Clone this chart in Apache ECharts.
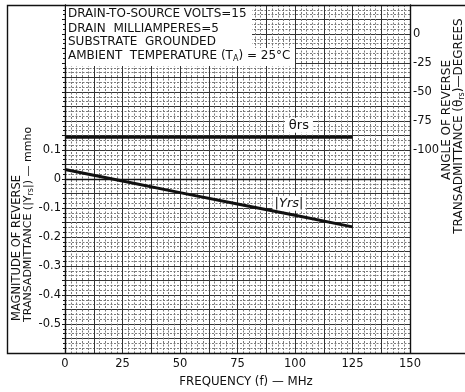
<!DOCTYPE html>
<html>
<head>
<meta charset="utf-8">
<script src="https://cdn.jsdelivr.net/npm/echarts@6/dist/echarts.min.js"></script>
<style>
  html, body { margin: 0; padding: 0; background: #fff; }
  #chart { width: 465px; height: 392px; }
</style>
</head>
<body>
<div id="chart"></div>
<script>
// Reverse transadmittance vs. frequency
const frequencyMHz   = [0, 25, 50, 75, 100, 125];
const yrsMagnitude   = [0.033, -0.007, -0.047, -0.086, -0.125, -0.165]; // mmho
const thetaDegrees   = [-89, -89, -89, -89, -89, -89];                  // degrees

const freqTickLabels  = [0, 25, 50, 75, 100, 125, 150];
const magTickLabels   = [0.1, 0, -0.1, -0.2, -0.3, -0.4, -0.5];
const angleTickLabels = [0, -25, -50, -75, -100];

const conditionLines = [
  'DRAIN-TO-SOURCE VOLTS=15',
  'DRAIN  MILLIAMPERES=5',
  'SUBSTRATE  GROUNDED',
  'AMBIENT  TEMPERATURE (T{s|A}) = 25°C'
];

const FONT = '"DejaVu Sans", "Liberation Sans", sans-serif';
const INK = '#111';

function inList(list, v) {
  return list.some(t => Math.abs(t - v) < 1e-6);
}
function fmtMag(v) {
  if (!inList(magTickLabels, v)) return '';
  const r = Math.round(v * 10) / 10;
  return r === 0 ? '0' : String(r);
}

const subRich = { s: { fontSize: 8, fontFamily: FONT, fill: INK, padding: [5, 0, 0, 0] } };

const chart = echarts.init(document.getElementById('chart'), null, { renderer: 'canvas' });

const graphics = [
  // outer frame lines
  { type: 'polyline', z: 60, shape: { points: [[465, 5.5], [7.5, 5.5], [7.5, 353.5], [465, 353.5]] },
    style: { fill: null, stroke: INK, lineWidth: 1.4 } },
  // white panel behind the test conditions
  { type: 'rect', z: 55, shape: { x: 66, y: 6, width: 186, height: 43 }, style: { fill: '#fff' } },
  { type: 'rect', z: 55, shape: { x: 66, y: 48, width: 229, height: 18 }, style: { fill: '#fff' } },
  // left axis title (two lines, reading upward)
  { type: 'text', z: 60, x: 17, y: 321, rotation: Math.PI / 2,
    style: { text: 'MAGNITUDE OF REVERSE', font: '11.5px ' + FONT, fill: INK,
             textAlign: 'left', textVerticalAlign: 'middle' } },
  { type: 'text', z: 60, x: 28, y: 322, rotation: Math.PI / 2,
    style: { text: 'TRANSADMITTANCE (|Y{s|rs}|) — mmho', font: '11px ' + FONT, fill: INK,
             textAlign: 'left', textVerticalAlign: 'middle', rich: subRich } },
  // right axis title
  { type: 'text', z: 60, x: 447, y: 120, rotation: Math.PI / 2,
    style: { text: 'ANGLE OF REVERSE', font: '12px ' + FONT, fill: INK,
             textAlign: 'center', textVerticalAlign: 'middle' } },
  { type: 'text', z: 60, x: 459, y: 126, rotation: Math.PI / 2,
    style: { text: 'TRANSADMITTANCE (θ{s|rs})—DEGREES', font: '12px ' + FONT, fill: INK,
             textAlign: 'center', textVerticalAlign: 'middle', rich: subRich } },
  // x axis title
  { type: 'text', z: 60, x: 246, y: 382,
    style: { text: 'FREQUENCY (f) — MHz', font: '11.8px ' + FONT, fill: INK,
             textAlign: 'center', textVerticalAlign: 'middle' } }
];

const condTops = [14, 28.5, 41.5, 56];
conditionLines.forEach((t, i) => {
  graphics.push({ type: 'text', z: 60, x: 68, y: condTops[i],
    style: { text: t, font: '12px ' + FONT, fill: INK, textAlign: 'left',
             textVerticalAlign: 'middle', rich: subRich } });
});

chart.setOption({
  animation: false,
  backgroundColor: '#fff',
  grid: { left: 65, top: 5, width: 345, height: 348, containLabel: false },
  xAxis: {
    type: 'value', min: 0, max: 150, interval: 12.5,
    axisLine: { show: true, lineStyle: { color: INK, width: 1.4 } },
    axisTick: { show: false },
    axisLabel: {
      margin: 5, color: INK, fontSize: 11.5, fontFamily: FONT,
      formatter: v => inList(freqTickLabels, v) ? String(v) : ''
    },
    splitLine: { show: true, lineStyle: { color: '#333', width: 1 } },
    minorTick: { show: false, splitNumber: 5 },
    minorSplitLine: { show: true, lineStyle: { color: '#7a7a7a', width: 1, type: [2, 1.5] } }
  },
  yAxis: [
    {
      type: 'value', min: -0.6, max: 0.6, interval: 0.05, position: 'left',
      axisLine: { show: true, lineStyle: { color: INK, width: 1.4 } },
      axisTick: { show: true, length: 3, lineStyle: { color: INK } },
      minorTick: { show: true, splitNumber: 3, length: 2, lineStyle: { color: INK } },
      axisLabel: { margin: 4, color: INK, fontSize: 11.5, fontFamily: FONT, formatter: fmtMag },
      splitLine: { show: true, lineStyle: { color: '#333', width: 1 } },
      minorSplitLine: { show: true, lineStyle: { color: '#7a7a7a', width: 1, type: [2, 1.5] } }
    },
    {
      type: 'value', min: -275, max: 25, interval: 12.5, position: 'right',
      axisLine: { show: true, lineStyle: { color: INK, width: 1.4 } },
      axisTick: { show: false },
      axisLabel: {
        margin: 3, color: INK, fontSize: 11.5, fontFamily: FONT,
        formatter: v => inList(angleTickLabels, v) ? String(v) : ''
      },
      splitLine: { show: false }
    }
  ],
  series: [
    {
      name: '|Yrs|', type: 'line', yAxisIndex: 0, symbol: 'none', z: 5,
      lineStyle: { color: INK, width: 3 },
      data: frequencyMHz.map((f, i) => [f, yrsMagnitude[i]]),
      markPoint: {
        symbol: 'rect', symbolSize: 0, silent: true,
        data: [{ coord: [97.4, -0.118] }],
        label: {
          show: true, formatter: '|Yrs|', offset: [0, -10],
          color: INK, fontSize: 13, fontStyle: 'italic', fontFamily: FONT,
          backgroundColor: '#fff', padding: [1, 2]
        }
      }
    },
    {
      name: 'θrs', type: 'line', yAxisIndex: 1, symbol: 'none', z: 5,
      lineStyle: { color: INK, width: 3 },
      data: frequencyMHz.map((f, i) => [f, thetaDegrees[i]]),
      markPoint: {
        symbol: 'rect', symbolSize: 0, silent: true,
        data: [{ coord: [101.7, -89] }],
        label: {
          show: true, formatter: 'θrs', offset: [0, -12],
          color: INK, fontSize: 13, fontFamily: FONT,
          backgroundColor: '#fff', padding: [1, 4]
        }
      }
    }
  ],
  graphic: { elements: graphics }
});
</script>
</body>
</html>
